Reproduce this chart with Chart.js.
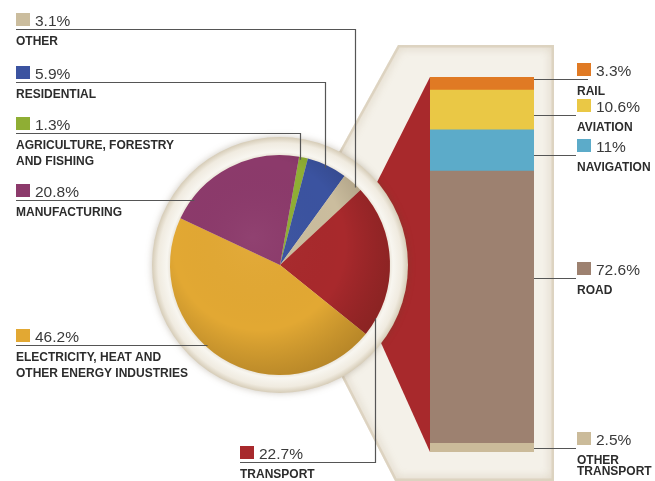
<!DOCTYPE html>
<html>
<head>
<meta charset="utf-8">
<script src="https://cdn.jsdelivr.net/npm/chart.js@4.4.0/dist/chart.umd.min.js"></script>
<style>
html,body{margin:0;padding:0;background:#fff;}
#wrap{position:relative;width:655px;height:481px;overflow:hidden;}
#wrap canvas{position:absolute;left:0;top:0;}
</style>
</head>
<body>
<div id="wrap">
  <canvas id="barChart" width="655" height="481"></canvas>
  <canvas id="pieChart" width="655" height="481"></canvas>
</div>
<script>
// ===== data =====
// sectors, clockwise from the top of the pie
const sectorNames  = ['AGRICULTURE, FORESTRY AND FISHING','RESIDENTIAL','OTHER','TRANSPORT','ELECTRICITY, HEAT AND OTHER ENERGY INDUSTRIES','MANUFACTURING'];
const sectorShares = [1.3, 5.9, 3.1, 22.7, 46.2, 20.8];
const sectorColors = ['#8fae34','#3b53a0','#cbbd9e','#a8292c','#e2a833','#8c3a6b'];

// transport breakdown, top to bottom of the bar
const transportNames  = ['RAIL','AVIATION','NAVIGATION','ROAD','OTHER TRANSPORT'];
const transportShares = [3.3, 10.6, 11, 72.6, 2.5];
const transportColors = ['#e07a24','#eac845','#5cabc9','#9d8170','#cbbb9a'];

// label layout (i = index into the arrays above)
const leftLabels = [
  { i:2, x:16,  lineY:29,  lines:['OTHER'], dropX:355 },
  { i:1, x:16,  lineY:82,  lines:['RESIDENTIAL'], dropX:325 },
  { i:0, x:16,  lineY:133, lines:['AGRICULTURE, FORESTRY','AND FISHING'], dropX:300 },
  { i:5, x:16,  lineY:200, lines:['MANUFACTURING'] },
  { i:4, x:16,  lineY:345, lines:['ELECTRICITY, HEAT AND','OTHER ENERGY INDUSTRIES'] },
  { i:3, x:240, lineY:462, lines:['TRANSPORT'], riseX:375 }
];
const rightLabels = [
  { i:0, x:577, lineY:79,  lineEnd:588, lines:['RAIL'] },
  { i:1, x:577, lineY:115, lineEnd:576, lines:['AVIATION'] },
  { i:2, x:577, lineY:155, lineEnd:576, lines:['NAVIGATION'] },
  { i:3, x:577, lineY:278, lineEnd:576, lines:['ROAD'] },
  { i:4, x:577, lineY:448, lineEnd:576, lines:['OTHER','TRANSPORT'] }
];

const total = transportShares.reduce((a,b)=>a+b,0);
const FONT = '"Liberation Sans", Arial, sans-serif';
const LINE = '#555';

// ===== helpers =====
function pct(v){ return v + '%'; }

function drawLabel(ctx, x, lineY, color, value, lines, spacing){
  ctx.fillStyle = color;
  ctx.fillRect(x, lineY-16, 14, 13);
  ctx.textAlign = 'left';
  ctx.textBaseline = 'alphabetic';
  ctx.fillStyle = '#3a3a3a';
  ctx.font = '15.5px ' + FONT;
  ctx.fillText(pct(value), x+19, lineY-3);
  ctx.fillStyle = '#2c2c2c';
  ctx.font = 'bold 12px ' + FONT;
  lines.forEach((t,k)=> ctx.fillText(t, x, lineY+15.5+k*spacing));
}

function pieGeom(chart){
  const arc = chart.getDatasetMeta(0).data[0];
  return { cx: arc.x, cy: arc.y, r: arc.outerRadius };
}

// ===== plugins =====
const ringPlugin = {
  id:'ring',
  beforeDatasetsDraw(chart){
    const ctx = chart.ctx, g = pieGeom(chart);
    ctx.save();
    ctx.shadowColor = 'rgba(90,70,40,0.3)';
    ctx.shadowBlur = 7;
    const grad = ctx.createRadialGradient(g.cx,g.cy,g.r-2,g.cx,g.cy,g.r+18);
    grad.addColorStop(0,'#e4dccd');
    grad.addColorStop(0.25,'#f8f6f0');
    grad.addColorStop(0.7,'#f0ebe0');
    grad.addColorStop(1,'#d6ccb7');
    ctx.fillStyle = grad;
    ctx.beginPath();
    ctx.arc(g.cx,g.cy,g.r+18,0,Math.PI*2);
    ctx.fill();
    ctx.restore();
  },
  afterDatasetsDraw(chart){
    // soft shading so the disc looks slightly domed
    const ctx = chart.ctx, g = pieGeom(chart);
    ctx.save();
    ctx.beginPath();
    ctx.arc(g.cx,g.cy,g.r,0,Math.PI*2);
    ctx.clip();
    const sh = ctx.createRadialGradient(g.cx-0.25*g.r,g.cy-0.25*g.r,0,g.cx-0.15*g.r,g.cy-0.15*g.r,g.r*1.3);
    sh.addColorStop(0,'rgba(255,255,255,0.04)');
    sh.addColorStop(0.6,'rgba(0,0,0,0)');
    sh.addColorStop(1,'rgba(40,20,0,0.26)');
    ctx.fillStyle = sh;
    ctx.fillRect(g.cx-g.r,g.cy-g.r,g.r*2,g.r*2);
    ctx.restore();
  },
  afterDraw(chart){
    const ctx = chart.ctx, g = pieGeom(chart);
    const edgeY = (x,s)=> g.cy + s*Math.sqrt(Math.max(g.r*g.r-(x-g.cx)*(x-g.cx),0));
    const edgeX = (y)=> g.cx - Math.sqrt(Math.max(g.r*g.r-(y-g.cy)*(y-g.cy),0));
    ctx.save();
    ctx.strokeStyle = LINE;
    ctx.lineWidth = 1.2;
    leftLabels.forEach(L=>{
      const y = L.lineY + 0.5;
      ctx.beginPath();
      ctx.moveTo(L.x, y);
      if(L.dropX){
        ctx.lineTo(L.dropX+0.5, y);
        ctx.lineTo(L.dropX+0.5, edgeY(L.dropX,-1)+3);
      } else if(L.riseX){
        ctx.lineTo(L.riseX+0.5, y);
        ctx.lineTo(L.riseX+0.5, edgeY(L.riseX,1)-2);
      } else {
        ctx.lineTo(edgeX(L.lineY)+3, y);
      }
      ctx.stroke();
      drawLabel(ctx, L.x, L.lineY, sectorColors[L.i], sectorShares[L.i], L.lines, 16);
    });
    ctx.restore();
  }
};

let pieChart = null;

const backdropPlugin = {
  id:'backdrop',
  beforeDatasetsDraw(chart){
    const ctx = chart.ctx, ys = chart.scales.y;
    const bar = chart.getDatasetMeta(0).data[0];
    const left = bar.x - bar.width/2, right = bar.x + bar.width/2;
    const top = ys.getPixelForValue(0), bottom = ys.getPixelForValue(total);
    const g = pieGeom(pieChart);
    // cream panel
    ctx.save();
    ctx.beginPath();
    ctx.moveTo(left-32, top-32);
    ctx.lineTo(right+20, top-32);
    ctx.lineTo(right+20, chart.height);
    ctx.lineTo(left-35, chart.height);
    ctx.lineTo(g.cx+0.45*g.r, g.cy+0.8*g.r);
    ctx.lineTo(g.cx+0.45*g.r, g.cy-0.87*g.r);
    ctx.closePath();
    ctx.fillStyle = '#f4f1e9';
    ctx.fill();
    ctx.clip();
    ctx.shadowColor = 'rgba(160,135,95,0.55)';
    ctx.shadowBlur = 10;
    ctx.strokeStyle = 'rgba(214,202,178,0.6)';
    ctx.lineWidth = 5;
    ctx.stroke();
    ctx.restore();
    // red wedge joining the transport slice to the bar
    ctx.save();
    ctx.beginPath();
    ctx.moveTo(left, top);
    ctx.lineTo(left, bottom);
    ctx.lineTo(g.cx+0.78*g.r, g.cy+0.4*g.r);
    ctx.lineTo(g.cx+0.78*g.r, g.cy-0.55*g.r);
    ctx.closePath();
    ctx.fillStyle = sectorColors[3];
    ctx.fill();
    ctx.restore();
  },
  afterDraw(chart){
    const ctx = chart.ctx;
    const bar = chart.getDatasetMeta(0).data[0];
    const right = bar.x + bar.width/2;
    ctx.save();
    ctx.strokeStyle = LINE;
    ctx.lineWidth = 1.2;
    rightLabels.forEach(L=>{
      ctx.beginPath();
      ctx.moveTo(right, L.lineY+0.5);
      ctx.lineTo(L.lineEnd, L.lineY+0.5);
      ctx.stroke();
      drawLabel(ctx, L.x, L.lineY, transportColors[L.i], transportShares[L.i], L.lines, 11.5);
    });
    ctx.restore();
  }
};

// ===== charts =====
pieChart = new Chart(document.getElementById('pieChart'), {
  type:'pie',
  data:{ labels: sectorNames, datasets:[{ data: sectorShares, backgroundColor: sectorColors, borderWidth:0 }] },
  options:{
    responsive:false, animation:false, rotation:10,
    layout:{ padding:{ left:170, right:265, top:155, bottom:106 } },
    plugins:{ legend:{display:false}, tooltip:{enabled:false} },
    events:[]
  },
  plugins:[ringPlugin]
});

new Chart(document.getElementById('barChart'), {
  type:'bar',
  data:{
    labels:['TRANSPORT'],
    datasets: transportNames.map((n,k)=>({
      label:n, data:[transportShares[k]], backgroundColor:transportColors[k],
      borderWidth:0, barPercentage:1, categoryPercentage:1
    }))
  },
  options:{
    responsive:false, animation:false,
    layout:{ padding:{ left:430, right:121, top:77, bottom:29 } },
    scales:{
      x:{ stacked:true, display:false },
      y:{ stacked:true, display:false, reverse:true, min:0, max:total }
    },
    plugins:{ legend:{display:false}, tooltip:{enabled:false} },
    events:[]
  },
  plugins:[backdropPlugin]
});
</script>
</body>
</html>
